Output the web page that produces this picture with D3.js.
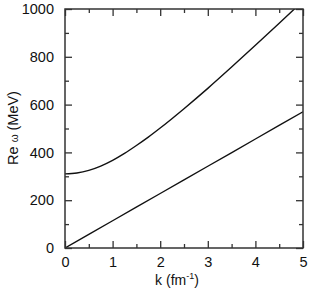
<!DOCTYPE html>
<html><head><meta charset="utf-8">
<script src="https://cdn.jsdelivr.net/npm/d3@7"></script>
<style>body{margin:0;background:#fff;} svg{display:block;font-family:"Liberation Sans",Arial,sans-serif;}</style>
</head><body>
<svg id="c" width="309" height="289"></svg>
<script>
// data
const kUpper = [0, 0.25, 0.5, 0.75, 1.0, 1.25, 1.5, 1.75, 2.0, 2.5, 3.0, 3.5, 4.0, 4.5, 5.0];
const omegaUpper = [310, 314, 325, 343, 367, 396, 429, 464, 502, 583, 668, 757, 848, 940, 1034];
const kLower = [0, 1, 2, 3, 4, 5];
const omegaLower = [0, 114, 228, 342, 456, 570];
const xTicks = [0, 1, 2, 3, 4, 5];
const yTicks = [0, 200, 400, 600, 800, 1000];

const svg = d3.select("#c");
const L = 65, R = 303, T = 9, B = 248;
const x = d3.scaleLinear().domain([0, 5]).range([L, R]);
const y = d3.scaleLinear().domain([0, 1000]).range([B, T]);
const axisColor = "#333";

svg.append("clipPath").attr("id", "clip").append("rect")
  .attr("x", L).attr("y", T).attr("width", R - L).attr("height", B - T);

const line = d3.line().x(d => x(d[0])).y(d => y(d[1])).curve(d3.curveMonotoneX);
const g = svg.append("g").attr("clip-path", "url(#clip)");
g.append("path").datum(kUpper.map((k, i) => [k, omegaUpper[i]]))
  .attr("d", line).attr("fill", "none").attr("stroke", "#111").attr("stroke-width", 1.4);
g.append("path").datum(kLower.map((k, i) => [k, omegaLower[i]]))
  .attr("d", line).attr("fill", "none").attr("stroke", "#111").attr("stroke-width", 1.4);

// axes with inward ticks
const xMinor = d3.range(0.5, 5, 1);
const yMinor = d3.range(100, 1000, 200);
function styleAxis(sel) {
  sel.select(".domain").remove();
  sel.selectAll("line").attr("stroke", axisColor).attr("stroke-width", 1.3);
  sel.selectAll("text").attr("font-size", 14.5).attr("fill", "#111")
    .attr("font-family", '"Liberation Sans",Arial,sans-serif');
}
svg.append("g").attr("transform", `translate(0,${B})`)
  .call(d3.axisBottom(x).tickValues(xTicks).tickFormat(d3.format("d")).tickSizeInner(-7).tickPadding(9))
  .call(styleAxis);
svg.append("g").attr("transform", `translate(0,${B})`)
  .call(d3.axisBottom(x).tickValues(xMinor).tickFormat("").tickSizeInner(-4)).call(styleAxis);
svg.append("g").attr("transform", `translate(0,${T})`)
  .call(d3.axisTop(x).tickValues(xTicks).tickFormat("").tickSizeInner(-7)).call(styleAxis);
svg.append("g").attr("transform", `translate(0,${T})`)
  .call(d3.axisTop(x).tickValues(xMinor).tickFormat("").tickSizeInner(-4)).call(styleAxis);
svg.append("g").attr("transform", `translate(${L},0)`)
  .call(d3.axisLeft(y).tickValues(yTicks).tickFormat(d3.format("d")).tickSizeInner(-7).tickPadding(11))
  .call(styleAxis);
svg.append("g").attr("transform", `translate(${L},0)`)
  .call(d3.axisLeft(y).tickValues(yMinor).tickFormat("").tickSizeInner(-4)).call(styleAxis);
svg.append("g").attr("transform", `translate(${R},0)`)
  .call(d3.axisRight(y).tickValues(yTicks).tickFormat("").tickSizeInner(-7)).call(styleAxis);
svg.append("g").attr("transform", `translate(${R},0)`)
  .call(d3.axisRight(y).tickValues(yMinor).tickFormat("").tickSizeInner(-4)).call(styleAxis);

svg.append("rect").attr("x", L).attr("y", T).attr("width", R - L).attr("height", B - T)
  .attr("fill", "none").attr("stroke", axisColor).attr("stroke-width", 1.5);

// axis titles
const xt = svg.append("text").attr("x", 177).attr("y", 285).attr("text-anchor", "middle")
  .attr("font-size", 14).attr("fill", "#111");
xt.append("tspan").text("k (fm");
xt.append("tspan").attr("font-size", 9).attr("dy", -6).text("-1");
xt.append("tspan").attr("dy", 6).text(")");

const yt = svg.append("text").attr("transform", `translate(18,128) rotate(-90)`)
  .attr("text-anchor", "middle").attr("font-size", 14.5).attr("fill", "#111");
yt.append("tspan").text("Re ");
yt.append("tspan").attr("font-size", 10).text("ω");
yt.append("tspan").text(" (MeV)");
</script>
</body></html>
